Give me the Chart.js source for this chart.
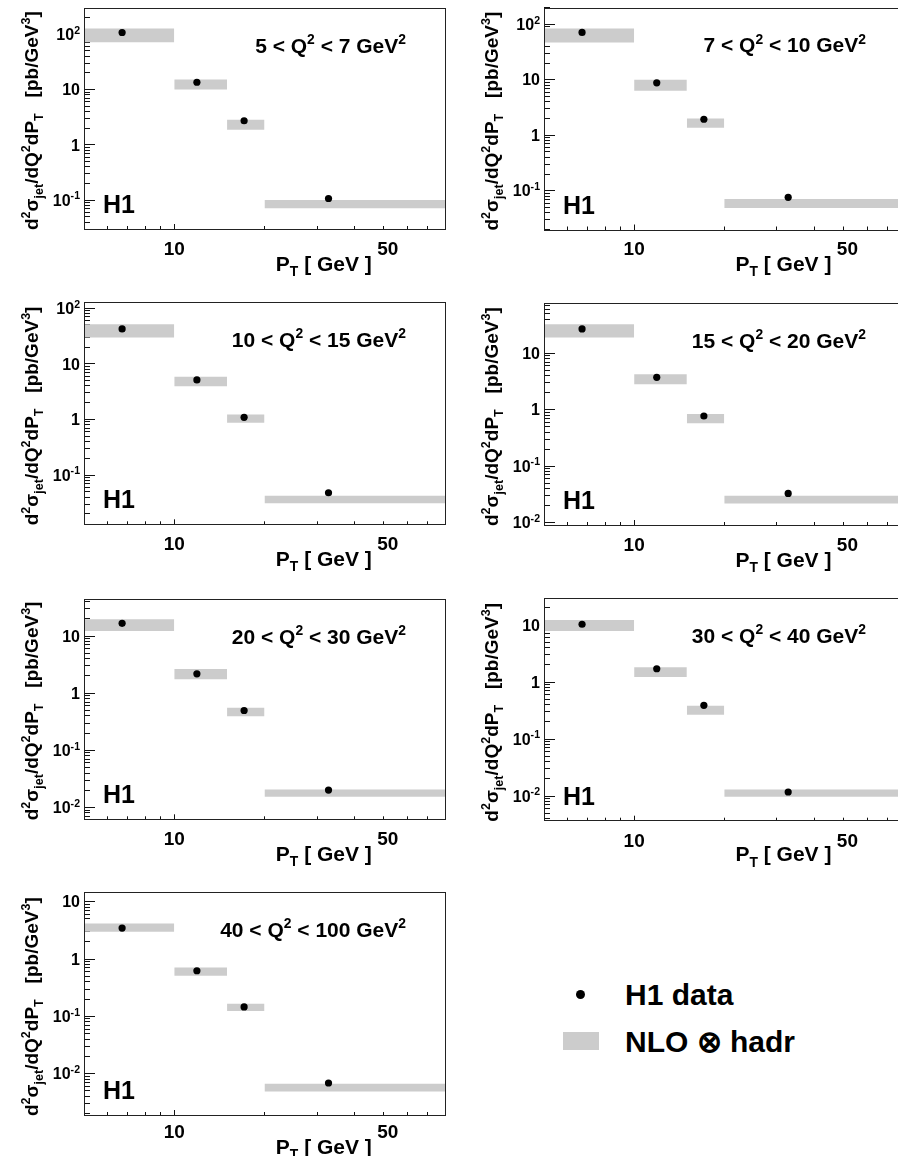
<!DOCTYPE html>
<html>
<head>
<meta charset="utf-8">
<title>Jet cross sections in bins of Q2</title>
<script src="https://cdn.jsdelivr.net/npm/chart.js@4.4.1/dist/chart.umd.min.js"></script>
<style>
  html, body { margin: 0; padding: 0; background: #fff; }
  body { position: relative; width: 898px; height: 1156px; overflow: hidden; }
  canvas { position: absolute; }
  .key { position: absolute; }
  .keytxt { position: absolute; font: bold 30px "Liberation Sans", Arial, sans-serif; line-height: 30px; color: #000; white-space: nowrap; }
</style>
</head>
<body>

<div class="key" style="left:576px;top:990px;width:9px;height:9px;border-radius:50%;background:#000"></div>
<div class="keytxt" style="left:625px;top:980px">H1 data</div>
<div class="key" style="left:563px;top:1032px;width:36px;height:18px;background:#cccccc"></div>
<div class="keytxt" style="left:625px;top:1027px">NLO ⊗ hadr</div>

<script>
// PT bins [GeV] and the mean PT of the data in each bin
const ptEdges = [5, 10, 15, 20, 80];
const ptMean = [6.7, 11.9, 17.1, 32.7];
const q2Bins = [[5, 7], [7, 10], [10, 15], [15, 20], [20, 30], [30, 40], [40, 100]];

// d2sigma/dQ2dPT in pb/GeV^3, one row per Q2 bin
const h1Xsec = [
  [108, 13.6, 2.73, 0.107],
  [71, 8.8, 1.94, 0.076],
  [42.5, 5.15, 1.09, 0.048],
  [27, 3.75, 0.772, 0.0327],
  [16.7, 2.18, 0.497, 0.0201],
  [10.3, 1.71, 0.39, 0.0118],
  [3.47, 0.625, 0.146, 0.00687]
];
// NLO x hadronisation band, lower and upper edge
const nloLow = [
  [72, 10, 1.87, 0.0716],
  [47, 6.3, 1.36, 0.049],
  [29.7, 3.96, 0.871, 0.031],
  [19, 2.82, 0.572, 0.0217],
  [12.2, 1.76, 0.395, 0.0154],
  [7.85, 1.22, 0.267, 0.0097],
  [2.99, 0.511, 0.124, 0.0049]
];
const nloHigh = [
  [128, 15.2, 2.85, 0.1],
  [84, 10, 2.0, 0.071],
  [51.5, 5.84, 1.23, 0.0425],
  [32.7, 4.24, 0.838, 0.0297],
  [19.6, 2.64, 0.553, 0.0207],
  [12.2, 1.81, 0.384, 0.0131],
  [4.18, 0.715, 0.166, 0.00668]
];

// axis ranges
const xRange = [5, 80];
const yMin = [0.03, 0.02, 0.013, 0.009, 0.0062, 0.0037, 0.0019];
const yMax = [300, 200, 128, 77, 44.5, 29.4, 14.6];
const xLabelValues = [10, 50];

// canvas box and frame (left, top, right, bottom) of each pad on the page
const pads = [
  { box: [0, 0, 450, 290],     frame: [84, 8, 445, 229],        lab: 19, tit: 34 },
  { box: [450, 0, 460, 290],   frame: [544, 7.5, 904.5, 229.5], lab: 19, tit: 34 },
  { box: [0, 290, 450, 290],   frame: [84, 302.3, 445, 524.3],  lab: 19, tit: 34 },
  { box: [450, 290, 460, 290], frame: [544, 303.3, 904.5, 525], lab: 19, tit: 34 },
  { box: [0, 580, 450, 290],   frame: [84, 599, 445, 819.3],    lab: 19, tit: 34 },
  { box: [450, 580, 460, 290], frame: [544, 598.3, 904.5, 820.7], lab: 19, tit: 33 },
  { box: [0, 870, 450, 286],   frame: [84, 892.3, 445, 1115],   lab: 16, tit: 31 }
];

const FONT = '"Liberation Sans", Arial, Helvetica, sans-serif';
const BAND = '#cccccc';

function setFont(ctx, size) {
  ctx.font = `bold ${size}px ${FONT}`;
}

// text with superscripts (1) and subscripts (-1)
function drawRich(ctx, parts, x, y, size, align) {
  const small = size * 0.66;
  let width = 0;
  parts.forEach(([t, s]) => { setFont(ctx, s ? small : size); width += ctx.measureText(t).width; });
  let cx = align === 'right' ? x - width : align === 'center' ? x - width / 2 : x;
  parts.forEach(([t, s]) => {
    setFont(ctx, s ? small : size);
    const dy = s > 0 ? -size * 0.4 : s < 0 ? size * 0.25 : 0;
    ctx.fillText(t, cx, y + dy);
    cx += ctx.measureText(t).width;
  });
}

function logTicks(min, max, mults) {
  const ticks = [];
  for (let e = Math.floor(Math.log10(min)); e <= Math.ceil(Math.log10(max)); e++) {
    mults.forEach(m => {
      const v = m * Math.pow(10, e);
      if (v >= min * 0.999 && v <= max * 1.001) ticks.push({ value: v });
    });
  }
  return ticks;
}

// an axis that only draws inward tick marks at the given values
function tickAxis(axis, position, min, max, values, length) {
  return {
    type: 'logarithmic', axis, position, min, max, bounds: 'data',
    afterBuildTicks: s => { s.ticks = values.map(v => ({ value: v.value })); },
    afterFit: s => { if (axis === 'x') s.height = 0; else s.width = 0; },
    grid: { drawOnChartArea: false, drawTicks: true, tickLength: -length, tickColor: '#111', tickWidth: 1 },
    border: { display: false },
    ticks: { display: false, autoSkip: false }
  };
}

const yTitle = [['d', 0], ['2', 1], ['σ', 0], ['jet', -1], ['/dQ', 0], ['2', 1], ['dP', 0], ['T', -1],
  ['   [pb/GeV', 0], ['3', 1], [']', 0]];
const xTitle = [['P', 0], ['T', -1], [' [ GeV ]', 0]];

const padText = {
  id: 'padText',
  afterDraw(chart, args, opts) {
    const { ctx, chartArea: a, scales: { x, y } } = chart;
    const i = opts.index;
    const pad = pads[i];
    ctx.save();
    ctx.fillStyle = '#000';
    ctx.textBaseline = 'alphabetic';

    // frame
    ctx.strokeStyle = '#222';
    ctx.lineWidth = 1;
    ctx.strokeRect(Math.round(a.left) + 0.5, Math.round(a.top) + 0.5,
      Math.round(a.right - a.left), Math.round(a.bottom - a.top));

    // y tick labels at each decade
    const ySize = 16;
    logTicks(yMin[i], yMax[i], [1]).forEach(t => {
      const e = Math.round(Math.log10(t.value));
      const py = y.getPixelForValue(t.value) + ySize * 0.36;
      const parts = e === 0 ? [['1', 0]] : e === 1 ? [['10', 0]] : [['10', 0], [String(e), 1]];
      drawRich(ctx, parts, a.left - 4, py, ySize, 'right');
    });

    // x tick labels
    const xSize = 19;
    xLabelValues.forEach(v => {
      const px = x.getPixelForValue(v) + (v === 50 ? 4 : 0);
      drawRich(ctx, [[String(v), 0]], px, a.bottom + pad.lab + xSize * 0.36, xSize, 'center');
    });

    // x axis title
    drawRich(ctx, xTitle, x.getPixelForValue(50) - 12, a.bottom + pad.tit + 21 * 0.36, 21, 'right');

    // y axis title, rotated, starting at the bottom of the frame
    ctx.save();
    ctx.translate(a.left - 46, a.bottom + 1);
    ctx.rotate(-Math.PI / 2);
    drawRich(ctx, yTitle, 0, 0, 19, 'left');
    ctx.restore();

    // Q2 range
    const [lo, hi] = q2Bins[i];
    drawRich(ctx, [[`${lo} < Q`, 0], ['2', 1], [` < ${hi} GeV`, 0], ['2', 1]],
      a.left + 322, a.top + 37 + 21 * 0.36, 21, 'right');

    // experiment tag
    drawRich(ctx, [['H1', 0]], a.left + 19, a.bottom - 25 + 25 * 0.36, 25, 'left');
    ctx.restore();
  }
};

pads.forEach((pad, i) => {
  const [cl, ct, cw, ch] = pad.box;
  const [fl, ft, fr, fb] = pad.frame;
  const canvas = document.createElement('canvas');
  canvas.width = cw;
  canvas.height = ch;
  canvas.style.left = cl + 'px';
  canvas.style.top = ct + 'px';
  canvas.style.width = cw + 'px';
  canvas.style.height = ch + 'px';
  document.body.appendChild(canvas);

  const datasets = [{
    label: 'H1 data',
    data: ptMean.map((pt, b) => ({ x: pt, y: h1Xsec[i][b] })),
    showLine: false,
    pointRadius: 3.6,
    pointBackgroundColor: '#000',
    pointBorderWidth: 0,
    order: 0
  }];
  // one band per PT bin: upper edge, then lower edge filled up to it
  ptMean.forEach((pt, b) => {
    const x0 = ptEdges[b], x1 = ptEdges[b + 1];
    const upperIndex = datasets.length;
    datasets.push({
      label: 'NLO up',
      data: [{ x: x0, y: nloHigh[i][b] }, { x: x1, y: nloHigh[i][b] }],
      borderColor: 'rgba(0,0,0,0)', pointRadius: 0, fill: false, order: 1
    });
    datasets.push({
      label: 'NLO down',
      data: [{ x: x0, y: nloLow[i][b] }, { x: x1, y: nloLow[i][b] }],
      borderColor: 'rgba(0,0,0,0)', backgroundColor: BAND, pointRadius: 0,
      fill: upperIndex, order: 1
    });
  });

  const xMinor = logTicks(xRange[0], xRange[1], [2, 3, 4, 5, 6, 7, 8, 9]).filter(t => t.value > xRange[0] && t.value < xRange[1]);
  const xMajor = [{ value: 10 }];
  const yMinor = logTicks(yMin[i], yMax[i], [2, 3, 4, 5, 6, 7, 8, 9]);
  const yMajor = logTicks(yMin[i], yMax[i], [1]);

  new Chart(canvas, {
    type: 'line',
    data: { datasets },
    options: {
      responsive: false,
      animation: false,
      events: [],
      layout: { padding: { left: fl - cl, top: ft - ct, right: cl + cw - fr, bottom: ct + ch - fb } },
      scales: {
        x: tickAxis('x', 'bottom', xRange[0], xRange[1], xMinor, 3),
        xMajor: tickAxis('x', 'bottom', xRange[0], xRange[1], xMajor, 5),
        y: tickAxis('y', 'left', yMin[i], yMax[i], yMinor, 6),
        yMajor: tickAxis('y', 'left', yMin[i], yMax[i], yMajor, 11)
      },
      plugins: {
        legend: { display: false },
        tooltip: { enabled: false },
        padText: { index: i }
      }
    },
    plugins: [padText]
  });
});
</script>
</body>
</html>
